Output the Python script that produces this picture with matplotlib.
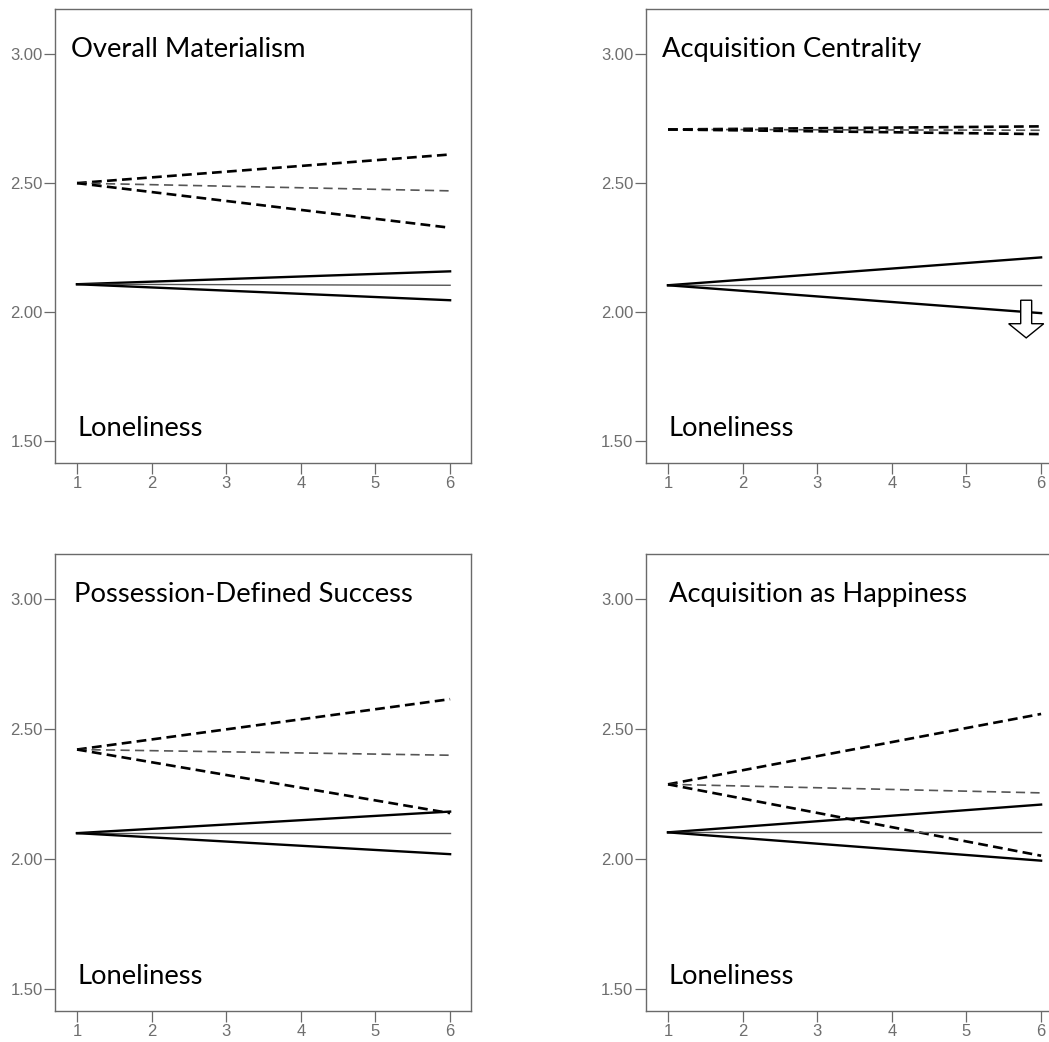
import matplotlib
matplotlib.use("Agg")
import matplotlib.pyplot as plt

# Panels: title, dashed group (start, high, mid, low), solid group (start, high, mid, low)
titles = ["Overall Materialism", "Acquisition Centrality",
          "Possession-Defined Success", "Acquisition as Happiness"]
x_vals = [1, 6]

dashed_start = [2.50, 2.708, 2.422, 2.288]
dashed_high = [2.611, 2.72, 2.616, 2.559]
dashed_mid = [2.47, 2.705, 2.40, 2.255]
dashed_low = [2.327, 2.69, 2.177, 2.013]

solid_start = [2.108, 2.104, 2.10, 2.103]
solid_high = [2.158, 2.212, 2.183, 2.21]
solid_mid = [2.104, 2.104, 2.10, 2.103]
solid_low = [2.046, 1.996, 2.019, 1.994]

y_ticks = [1.50, 2.00, 2.50, 3.00]
x_ticks = [1, 2, 3, 4, 5, 6]

W, H = 1049, 1042
fig = plt.figure(figsize=(W / 100, H / 100), dpi=100)

# axes boxes in pixels: left, top, right, bottom
boxes = [(55, 9, 471, 463), (646, 9, 1062, 463),
         (55, 554, 471, 1011), (646, 554, 1062, 1011)]
title_x = [0.92, 0.92, 0.96, 1.01]

spine_col = "#6a6a6a"
tick_col = "#6e6e6e"

for i, (l, t, r, b) in enumerate(boxes):
    ax = fig.add_axes([l / W, 1 - b / H, (r - l) / W, (b - t) / H])
    ax.set_xlim(0.705, 6.28)
    ax.set_ylim(1.415, 3.175)

    # dashed group
    ax.plot(x_vals, [dashed_start[i], dashed_high[i]], color="black", lw=1.9,
            linestyle=(0, (3.7, 2.0)))
    ax.plot(x_vals, [dashed_start[i], dashed_mid[i]], color="#555555", lw=1.2,
            linestyle=(0, (5.5, 3.2)))
    ax.plot(x_vals, [dashed_start[i], dashed_low[i]], color="black", lw=1.9,
            linestyle=(0, (3.7, 2.0)))
    # solid group
    ax.plot(x_vals, [solid_start[i], solid_high[i]], color="black", lw=1.7)
    ax.plot(x_vals, [solid_start[i], solid_mid[i]], color="#555555", lw=1.0)
    ax.plot(x_vals, [solid_start[i], solid_low[i]], color="black", lw=1.7)

    ax.text(title_x[i], 2.99, titles[i], fontsize=19.7, family="Lato",
            ha="left", va="baseline", color="black")
    ax.text(1.0, 1.52, "Loneliness", fontsize=19.7, family="Lato",
            ha="left", va="baseline", color="black")

    ax.set_xticks(x_ticks)
    ax.set_xticklabels([str(v) for v in x_ticks])
    ax.set_yticks(y_ticks)
    ax.set_yticklabels(["%.2f" % v for v in y_ticks])
    ax.tick_params(direction="out", length=8, width=0.9, color=spine_col,
                   labelsize=12, labelcolor=tick_col, pad=1)
    for lab in ax.get_xticklabels() + ax.get_yticklabels():
        lab.set_family("Liberation Sans")
    for sp in ax.spines.values():
        sp.set_color(spine_col)
        sp.set_linewidth(1.0)

    if i == 1:
        # hollow arrow marking the drop
        ax.arrow(5.8, 2.046, 0, -0.146, width=0.147, head_width=0.47,
                 head_length=0.055, length_includes_head=True,
                 fc="white", ec="black", lw=1.0, zorder=5)

fig.savefig("out.png", dpi=100)
